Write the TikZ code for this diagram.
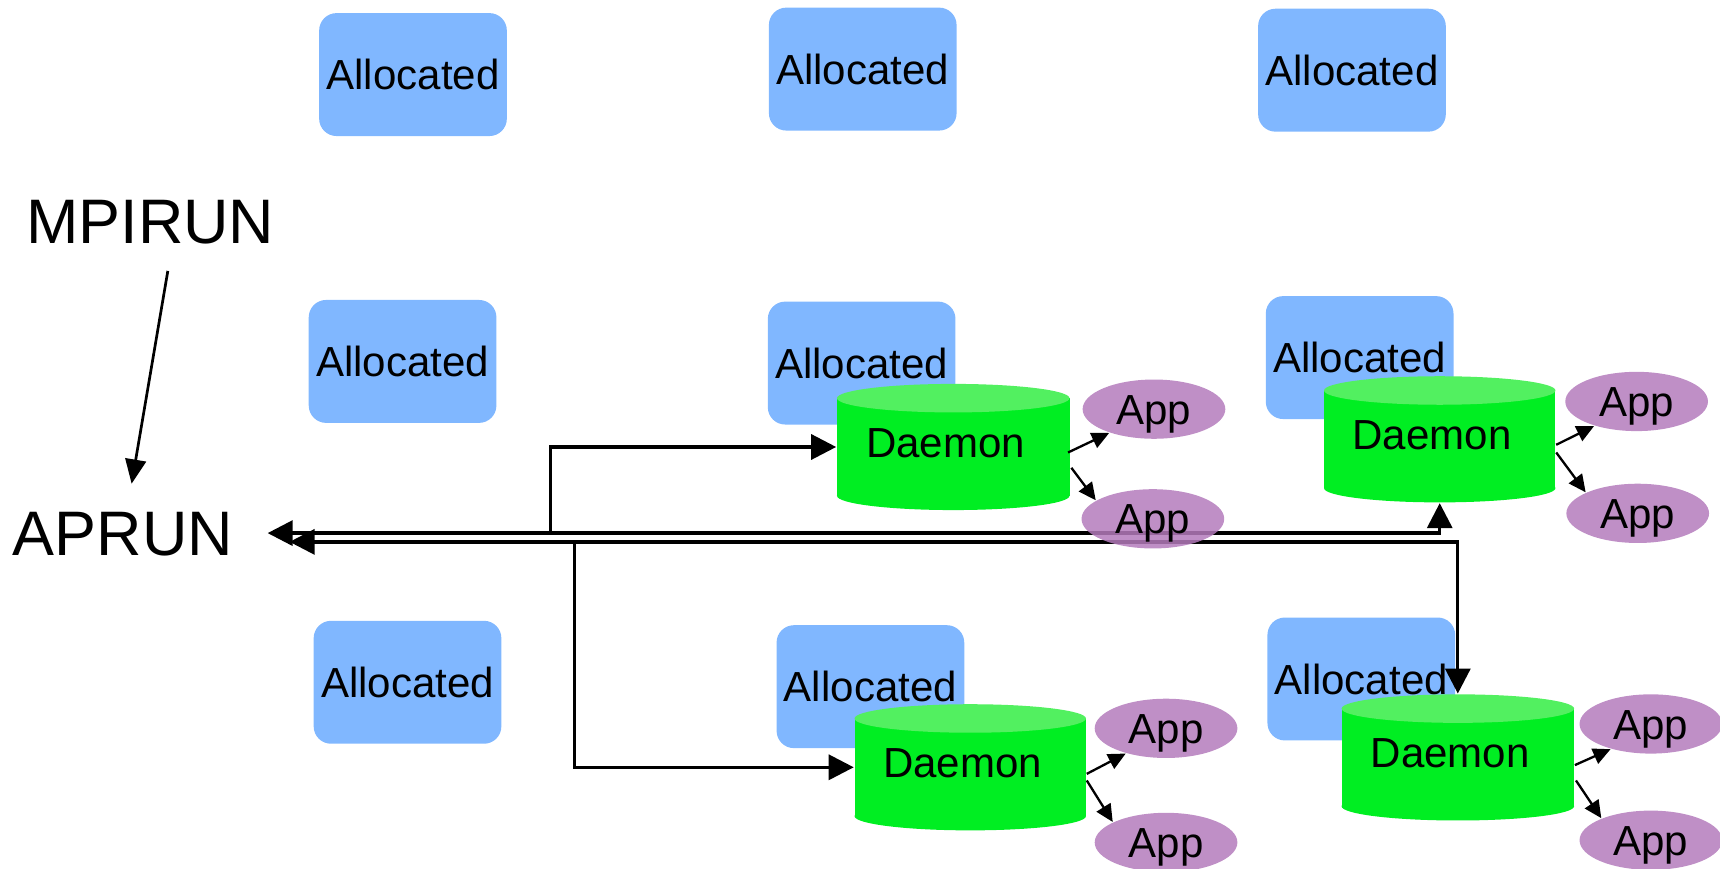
\documentclass[tikz,border=0pt]{standalone}
\usepackage{fontspec}
\setmainfont{Liberation Sans}
\usetikzlibrary{arrows.meta,calc,shapes.geometric}
\definecolor{allocblue}{RGB}{128,183,255}
\definecolor{cylbody}{RGB}{0,238,34}
\definecolor{cyltop}{RGB}{82,240,96}
\definecolor{apppurple}{RGB}{180,123,188}

% cylinder with name, left, top, right, bottom
\newcommand\daemoncyl[5]{%
  \fill[cylbody] (#2,#3+13) rectangle (#4,#5-13);
  \fill[cylbody] ({(#2+#4)/2},#5-13) ellipse [x radius={(#4-#2)/2}, y radius=13];
  \fill[cyltop] ({(#2+#4)/2},#3+13) ellipse [x radius={(#4-#2)/2}, y radius=13];
  \node[daemonbox, minimum width={(#4-#2)*0.01cm}, minimum height={(#5-#3)*0.01cm}]
    (#1) at ({(#2+#4)/2},{(#3+#5)/2}) {\raisebox{0.035cm}[\height][\depth]{Daemon}\hspace*{0.14cm}};
}
% application label, set a little low in its ellipse
\newcommand\applabel{\raisebox{-0.045cm}[\height][\depth]{App}}

\begin{document}
\begin{tikzpicture}[x=0.01cm,y=-0.01cm,
  bigtext/.style={inner sep=0pt, font=\fontsize{16.3}{19}\selectfont},
  alloc/.style={rectangle, rounded corners=4.5pt, fill=allocblue, draw=none,
    minimum width=1.71cm, minimum height=1.12cm, inner sep=0pt,
    font=\fontsize{10.9}{13}\selectfont},
  daemonbox/.style={rectangle, draw=none, inner sep=0pt,
    font=\fontsize{10.9}{13}\selectfont},
  app/.style={ellipse, fill=apppurple, fill opacity=0.85, text opacity=1,
    minimum width=1.3cm, minimum height=0.54cm, inner sep=0pt,
    font=\fontsize{10.9}{13}\selectfont},
  conn/.style={line width=0.85pt, -{Triangle[length=6.5pt,width=6.5pt]}},
  dconn/.style={line width=0.85pt, {Triangle[length=6.5pt,width=6.5pt]}-{Triangle[length=6.5pt,width=6.5pt]}},
  launch/.style={line width=0.7pt, -{Triangle[length=6.3pt,width=5.4pt]}},
  apparrow/.style={line width=0.6pt, -{Triangle[length=4.5pt,width=4.2pt]}}]
\useasboundingbox (0,0) rectangle (1568,792);

% launchers
\node[bigtext] (mpirun) at (137,203) {MPIRUN};
\node[bigtext] (aprun) at (112,487) {APRUN};

% allocated nodes
\node[alloc] (al1) at (376.5,68) {Allocated};
\node[alloc] (al2) at (786.5,63) {Allocated};
\node[alloc] (al3) at (1232.5,64) {Allocated};
\node[alloc] (al4) at (367,329.5) {Allocated};
\node[alloc] (al5) at (785.5,331) {Allocated};
\node[alloc] (al6) at (1239.5,326) {Allocated};
\node[alloc] (al7) at (371.5,622) {Allocated};
\node[alloc] (al8) at (793.5,626) {Allocated};
\node[alloc] (al9) at (1241,619) {Allocated};

% daemons
\daemoncyl{d1}{763}{350}{975}{465}
\daemoncyl{d2}{1207}{343}{1418}{458}
\daemoncyl{d3}{779}{642}{990}{757}
\daemoncyl{d4}{1223}{633}{1435}{748}

% aprun wiring
\coordinate (t1) at ($(aprun.center)+(132,-1)$);
\coordinate (t2) at ($(aprun.center)+(152,7)$);
\coordinate (j1) at (502,486);
\coordinate (j2) at (524,494);
\draw[dconn] (t1) -- (t1 -| d2.south) -- (d2.south);
\draw[conn] (j1) |- (d1.west);
\draw[dconn] (t2) -- (t2 -| d4.north) -- (d4.north);
\draw[conn] (j2) |- (d3.west);

\draw[launch] ($(mpirun.center)+(16,44)$) -- ($(aprun.center)+(8,-46)$);

% applications
\node[app] (p1a) at (1052,373) {\applabel};
\node[app] (p1b) at (1051,473) {\applabel};
\node[app] (p2a) at (1492,366) {\applabel};
\node[app] (p2b) at (1493,468) {\applabel};
\node[app] (p3a) at (1063,664) {\applabel};
\node[app] (p3b) at (1063,768) {\applabel};
\node[app] (p4a) at (1505,660) {\applabel};
\node[app] (p4b) at (1505,766) {\applabel};

\draw[apparrow] ($(d1.east)+(-2,5)$) -- (p1a.208);
\draw[apparrow] ($(d1.east)+(1,19)$) -- (p1b.162);
\draw[apparrow] ($(d2.east)+(0,5)$) -- (p2a.210);
\draw[apparrow] ($(d2.east)+(0,12)$) -- (p2b.158);
\draw[apparrow] ($(d3.east)+(0,6)$) -- (p3a.212);
\draw[apparrow] ($(d3.east)+(0,12)$) -- (p3b.159);
\draw[apparrow] ($(d4.east)+(0,7)$) -- (p4a.212);
\draw[apparrow] ($(d4.east)+(1,21)$) -- (p4b.156);
\end{tikzpicture}
\end{document}
